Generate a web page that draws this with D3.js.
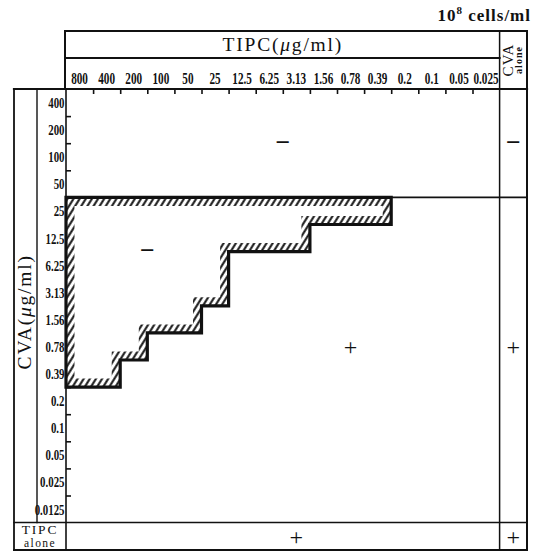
<!DOCTYPE html>
<html>
<head>
<meta charset="utf-8">
<script src="https://cdn.jsdelivr.net/npm/d3@7"></script>
<style>
    body { margin: 0; background: #fff; }
    text { font-family: "Liberation Serif", "DejaVu Serif", serif; fill: #111; }
</style>
</head>
<body>
<div id="chart"></div>
<script>
// TIPC concentrations (columns) and CVA concentrations (rows), ug/ml
const tipcLevels = ["800", "400", "200", "100", "50", "25", "12.5", "6.25", "3.13", "1.56", "0.78", "0.39", "0.2", "0.1", "0.05", "0.025"];
const cvaLevels = ["400", "200", "100", "50", "25", "12.5", "6.25", "3.13", "1.56", "0.78", "0.39", "0.2", "0.1", "0.05", "0.025", "0.0125"];

// lowest CVA level that is still "−" when combined, one per TIPC column (null = none)
const comboLimit = ["0.39", "0.39", "0.78", "1.56", "1.56", "3.13", "12.5", "12.5", "12.5", "25", "25", "25", null, null, null, null];
// lowest CVA level that is "−" on its own
const cvaAloneLimit = "50";

// result signs in the grid, anchored on the categories they sit between
const gridSigns = [
    { sign: "−", tipc: ["6.25", "3.13"], cva: ["200", "100"] },
    { sign: "−", tipc: ["200", "100"], cva: ["12.5", "6.25"] },
    { sign: "+", tipc: ["0.78"], cva: ["0.78"] },
];
const cvaAloneSigns = [
    { sign: "−", cva: ["200", "100"] },
    { sign: "+", cva: ["0.78"] },
];
const tipcAloneSigns = [
    { sign: "+", tipc: ["3.13"] },
];
const bothAloneSign = "+";

const width = 539;
const height = 552;

const plot = { left: 66, top: 89, cell: 27.1 };
plot.right = plot.left + plot.cell * tipcLevels.length;
plot.bottom = plot.top + plot.cell * cvaLevels.length;

const frame = {
    outerLeft: 14,
    innerLeft: 37,
    headTop: 31,
    headMid: 58,
    aloneRight: 527,
    aloneBottom: 550,
};

const svg = d3
    .select("#chart")
    .append("svg")
    .attr("width", width)
    .attr("height", height);

const defs = svg.append("defs");

const hatch = defs
    .append("pattern")
    .attr("id", "hatch")
    .attr("patternUnits", "userSpaceOnUse")
    .attr("width", 5.2)
    .attr("height", 10)
    .attr("patternTransform", "rotate(32)");
hatch.append("rect").attr("width", 5.2).attr("height", 10).attr("fill", "#fff");
hatch.append("line")
    .attr("x1", 1.3).attr("y1", 0).attr("x2", 1.3).attr("y2", 10)
    .attr("stroke", "#111").attr("stroke-width", 2);

const xScale = d3.scaleBand().domain(tipcLevels).range([plot.left, plot.right]);
const yScale = d3.scaleBand().domain(cvaLevels).range([plot.top, plot.bottom]);

// boundary scales for the tick marks between cells
const xEdge = d3.scaleLinear().domain([0, tipcLevels.length]).range([plot.left, plot.right]);
const yEdge = d3.scaleLinear().domain([0, cvaLevels.length]).range([plot.top, plot.bottom]);

const xMid = (list) => d3.mean(list, (d) => xScale(d) + xScale.bandwidth() / 2);
const yMid = (list) => d3.mean(list, (d) => yScale(d) + yScale.bandwidth() / 2);

// Tick marks
svg.append("g")
    .attr("transform", `translate(0, ${plot.top})`)
    .call(d3.axisBottom(xEdge).tickValues(d3.range(1, tipcLevels.length)).tickSize(5).tickFormat(""))
    .call((g) => g.select(".domain").remove())
    .selectAll("line").attr("stroke", "#111").attr("stroke-width", 1.6);

svg.append("g")
    .attr("transform", `translate(${plot.left}, 0)`)
    .call(d3.axisRight(yEdge).tickValues(d3.range(1, cvaLevels.length)).tickSize(5).tickFormat(""))
    .call((g) => g.select(".domain").remove())
    .selectAll("line").attr("stroke", "#111").attr("stroke-width", 1.6);

// Combination "−" region (staircase)
const cvaAloneEdge = yScale(cvaAloneLimit) + yScale.bandwidth();
const cols = tipcLevels
    .map((t, i) => ({ t, limit: comboLimit[i] }))
    .filter((d) => d.limit !== null);

const pathData = d3.path();
pathData.moveTo(plot.left, cvaAloneEdge);
pathData.lineTo(xScale(cols[cols.length - 1].t) + xScale.bandwidth(), cvaAloneEdge);
for (let i = cols.length - 1; i >= 0; i--) {
    const yb = yScale(cols[i].limit) + yScale.bandwidth();
    pathData.lineTo(xScale(cols[i].t) + xScale.bandwidth(), yb);
    pathData.lineTo(xScale(cols[i].t), yb);
}
pathData.closePath();

defs.append("clipPath")
    .attr("id", "region-clip")
    .append("path")
    .attr("d", pathData.toString());

svg.append("path")
    .attr("d", pathData.toString())
    .attr("fill", "none")
    .attr("stroke", "url(#hatch)")
    .attr("stroke-width", 17)
    .attr("clip-path", "url(#region-clip)");

// Frame lines
const lines = [
    // header box
    [plot.left - 1, frame.headTop, frame.aloneRight, frame.headTop, 2],
    [plot.left - 1, frame.headTop, plot.left - 1, plot.top, 2],
    [plot.left - 1, frame.headMid, plot.right, frame.headMid, 2],
    // alone column
    [plot.right, frame.headTop, plot.right, frame.aloneBottom, 1.5],
    [frame.aloneRight, frame.headTop, frame.aloneRight, frame.aloneBottom, 2],
    // plot top and left box
    [frame.outerLeft, plot.top, frame.aloneRight, plot.top, 2.2],
    [frame.outerLeft, plot.top, frame.outerLeft, frame.aloneBottom, 1.8],
    [frame.innerLeft, plot.top, frame.innerLeft, plot.bottom, 1.4],
    [plot.left, plot.top, plot.left, frame.aloneBottom, 1.6],
    // bottom rows
    [frame.outerLeft, plot.bottom, frame.aloneRight, plot.bottom, 1.5],
    [frame.outerLeft, frame.aloneBottom, frame.aloneRight, frame.aloneBottom, 1.8],
    // CVA alone cut-off
    [plot.left, cvaAloneEdge, frame.aloneRight, cvaAloneEdge, 1.6],
];

svg.append("g")
    .selectAll("line")
    .data(lines)
    .join("line")
    .attr("x1", (d) => d[0])
    .attr("y1", (d) => d[1])
    .attr("x2", (d) => d[2])
    .attr("y2", (d) => d[3])
    .attr("stroke", "#111")
    .attr("stroke-width", (d) => d[4])
    .attr("stroke-linecap", "square");

svg.append("path")
    .attr("d", pathData.toString())
    .attr("fill", "none")
    .attr("stroke", "#111")
    .attr("stroke-width", 3.2)
    .attr("stroke-linejoin", "miter");

// Tick labels
svg.append("g")
    .selectAll("text")
    .data(tipcLevels)
    .join("text")
    .attr("transform", (d) => `translate(${xScale(d) + xScale.bandwidth() / 2}, 83.5) scale(0.7, 1)`)
    .attr("text-anchor", "middle")
    .attr("font-size", 16)
    .attr("font-weight", "bold")
    .text((d) => d);

svg.append("g")
    .selectAll("text")
    .data(cvaLevels)
    .join("text")
    .attr("transform", (d) => `translate(64.5, ${yScale(d) + yScale.bandwidth() / 2 + 5.5}) scale(0.7, 1)`)
    .attr("text-anchor", "end")
    .attr("font-size", 15.5)
    .attr("font-weight", "bold")
    .text((d) => d);

// Titles
const title = (g, name) => {
    g.append("tspan").text(name + "(");
    g.append("tspan").attr("font-style", "italic").text("μ");
    g.append("tspan").text("g/ml)");
};

svg.append("text")
    .attr("x", (plot.left + plot.right) / 2)
    .attr("y", 51)
    .attr("text-anchor", "middle")
    .attr("font-size", 19.5)
    .attr("letter-spacing", 1.8)
    .call(title, "TIPC");

svg.append("text")
    .attr("transform", `translate(31, ${(plot.top + plot.bottom) / 2 + 6}) rotate(-90)`)
    .attr("text-anchor", "middle")
    .attr("font-size", 19.5)
    .attr("letter-spacing", 1.8)
    .call(title, "CVA");

const unit = svg.append("text")
    .attr("x", 531)
    .attr("y", 21)
    .attr("text-anchor", "end")
    .attr("font-size", 17)
    .attr("font-weight", "bold")
    .attr("letter-spacing", 1);
unit.append("tspan").text("10");
unit.append("tspan").attr("dy", -7).attr("font-size", 11).text("8");
unit.append("tspan").attr("dy", 7).text(" cells/ml");

const cvaAloneHead = svg.append("g")
    .attr("transform", `translate(${(plot.right + frame.aloneRight) / 2}, ${(frame.headTop + plot.top) / 2}) rotate(-90)`);
cvaAloneHead.append("text")
    .attr("x", 0).attr("y", 0)
    .attr("text-anchor", "middle")
    .attr("font-size", 15)
    .attr("letter-spacing", 1)
    .text("CVA");
cvaAloneHead.append("text")
    .attr("x", 0).attr("y", 9)
    .attr("text-anchor", "middle")
    .attr("font-size", 10)
    .attr("font-weight", "bold")
    .attr("letter-spacing", 1)
    .text("alone");

const tipcAloneX = (frame.outerLeft + plot.left) / 2;
svg.append("text")
    .attr("x", tipcAloneX).attr("y", 534)
    .attr("text-anchor", "middle")
    .attr("font-size", 13.5)
    .attr("letter-spacing", 1.8)
    .text("TIPC");
svg.append("text")
    .attr("x", tipcAloneX).attr("y", 547)
    .attr("text-anchor", "middle")
    .attr("font-size", 11.5)
    .attr("letter-spacing", 1.4)
    .text("alone");

// Result signs
const aloneX = (plot.right + frame.aloneRight) / 2;
const aloneY = (plot.bottom + frame.aloneBottom) / 2;
const signData = [
    ...gridSigns.map((d) => ({ sign: d.sign, x: xMid(d.tipc), y: yMid(d.cva) })),
    ...cvaAloneSigns.map((d) => ({ sign: d.sign, x: aloneX, y: yMid(d.cva) })),
    ...tipcAloneSigns.map((d) => ({ sign: d.sign, x: xMid(d.tipc), y: aloneY })),
    { sign: bothAloneSign, x: aloneX, y: aloneY },
];

svg.append("g")
    .selectAll("text")
    .data(signData)
    .join("text")
    .attr("x", (d) => d.x)
    .attr("y", (d) => d.y)
    .attr("dy", (d) => (d.sign === "+" ? "0.36em" : "0.3em"))
    .attr("text-anchor", "middle")
    .attr("font-size", (d) => (d.sign === "+" ? 24 : 26))
    .attr("font-weight", (d) => (d.sign === "+" ? "normal" : "bold"))
    .text((d) => d.sign);
</script>
</body>
</html>
